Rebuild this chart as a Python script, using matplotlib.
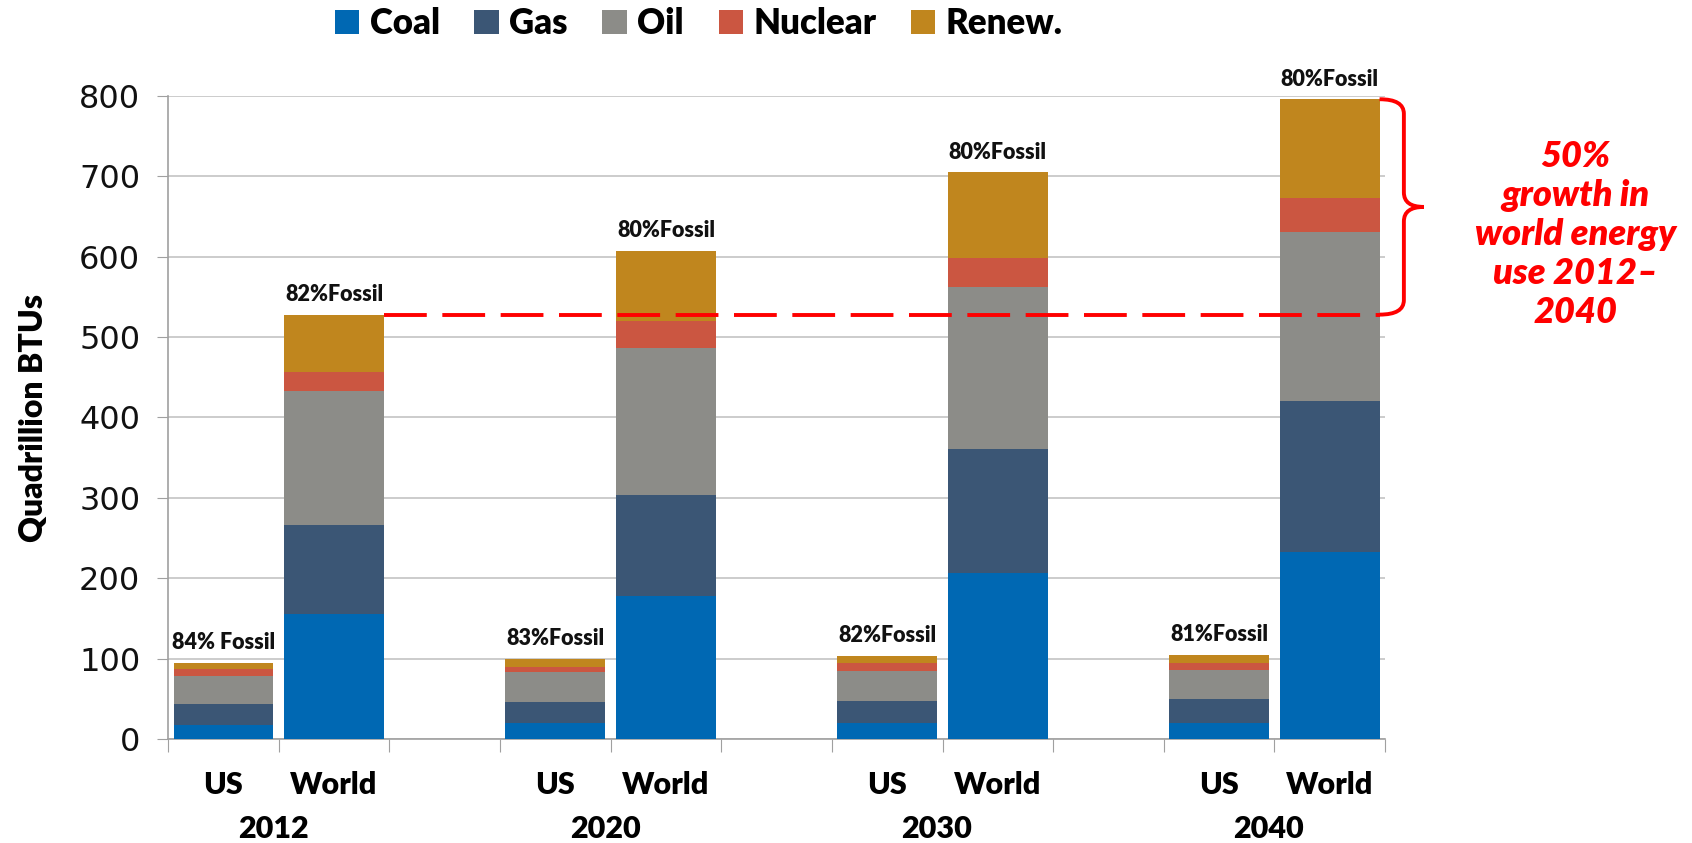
import matplotlib
matplotlib.use("Agg")
import matplotlib.pyplot as plt
from matplotlib.path import Path
from matplotlib.patches import PathPatch, Patch
import numpy as np

# Energy use by source, quadrillion BTUs
years = ["2012", "2020", "2030", "2040"]
regions = ["US", "World"]
sources = ["Coal", "Gas", "Oil", "Nuclear", "Renew."]
colors = ["#0068B3", "#3B5675", "#8C8C88", "#CB5641", "#C0861E"]

us_coal = [17, 20, 20, 20]
us_gas = [27, 26.5, 27, 30]
us_oil = [34, 36.5, 37, 36]
us_nuclear = [9, 7, 10, 8]
us_renew = [8, 10, 9.5, 11]

world_coal = [155, 178, 206, 233]
world_gas = [111, 126, 155, 187]
world_oil = [167, 183, 201, 211]
world_nuclear = [24, 33, 37, 42]
world_renew = [71, 87, 106, 123]

us_fossil = ["84% Fossil", "83%Fossil", "82%Fossil", "81%Fossil"]
world_fossil = ["82%Fossil", "80%Fossil", "80%Fossil", "80%Fossil"]

growth_note = "50%\ngrowth in\nworld energy\nuse 2012\u2013\n2040"

FONT = "Lato"
W = "heavy"

fig = plt.figure(figsize=(16.92, 8.43), dpi=100)
ax = fig.add_axes([0.0993, 0.1234, 0.7193, 0.7627])

# US and World side by side, one empty slot between years
us_x = np.arange(len(years)) * 3
world_x = us_x + 1
width = 0.9

us_stack = [us_coal, us_gas, us_oil, us_nuclear, us_renew]
world_stack = [world_coal, world_gas, world_oil, world_nuclear, world_renew]

for xs, stack in [(us_x, us_stack), (world_x, world_stack)]:
    bottom = np.zeros(len(years))
    for vals, c in zip(stack, colors):
        ax.bar(xs, vals, width, bottom=bottom, color=c, zorder=3, linewidth=0)
        bottom += np.array(vals)

us_tot = np.sum(us_stack, axis=0)
world_tot = np.sum(world_stack, axis=0)

for xs, tots, labels in [(us_x, us_tot, us_fossil), (world_x, world_tot, world_fossil)]:
    for x, t, lab in zip(xs, tots, labels):
        ax.annotate(lab, (x, t), xytext=(0, 7), textcoords="offset points",
                    ha="center", va="bottom", fontsize=15.5, fontweight=W,
                    family=FONT, color="#111111")

ax.set_xlim(-0.5, 10.5)
ax.set_ylim(0, 800)
ax.set_yticks(np.arange(0, 801, 100))
ax.tick_params(axis="y", labelsize=23, length=8, color="#A0A0A0", pad=12,
               labelcolor="#111111")
ax.yaxis.grid(True, color="#C4C4C4", linewidth=1.2, zorder=0)
ax.set_axisbelow(True)

# category separators on the x axis
ax.set_xticks(np.arange(-0.5, 10.6, 1))
ax.set_xticklabels([])
ax.tick_params(axis="x", length=9, color="#A0A0A0")

for s in ["top", "right"]:
    ax.spines[s].set_visible(False)
for s in ["left", "bottom"]:
    ax.spines[s].set_color("#A0A0A0")
    ax.spines[s].set_linewidth(1.2)

trans = ax.get_xaxis_transform()
for i, yr in enumerate(years):
    ax.text(us_x[i], -0.072, "US", transform=trans, ha="center", va="center",
            fontsize=22, fontweight=W, family=FONT)
    ax.text(world_x[i], -0.072, "World", transform=trans, ha="center", va="center",
            fontsize=22, fontweight=W, family=FONT)
    ax.text((us_x[i] + world_x[i]) / 2 - 0.05, -0.14, yr, transform=trans,
            ha="center", va="center", fontsize=22, fontweight=W, family=FONT)

ax.set_ylabel("Quadrillion BTUs", fontsize=23, fontweight=W, family=FONT,
              labelpad=22)

# dashed line at 2012 world total, out to the brace
base = world_tot[0]
top = world_tot[-1]
x0 = world_x[0] + width / 2
x1 = world_x[-1] + width / 2
ln, = ax.plot([x0, x1], [base, base], color="#FF0000", linewidth=2.8,
              clip_on=False, zorder=5)
ln.set_dashes((11, 4))

# curly brace from 2012 level up to 2040 total
xb = x1 + 0.22
xt = x1 + 0.40
mid = (base + top) / 2
r = 18
verts = [(x1, top), (xb, top), (xb, top - r),
         (xb, mid + r), (xb, mid), (xt, mid),
         (xb, mid), (xb, mid - r),
         (xb, base + r), (xb, base), (x1, base)]
codes = [Path.MOVETO, Path.CURVE3, Path.CURVE3,
         Path.LINETO, Path.CURVE3, Path.CURVE3,
         Path.CURVE3, Path.CURVE3,
         Path.LINETO, Path.CURVE3, Path.CURVE3]
brace = PathPatch(Path(verts, codes), facecolor="none", edgecolor="#FF0000",
                  linewidth=2.8, clip_on=False, zorder=5)
ax.add_patch(brace)

fig.text(0.931, 0.722, growth_note, ha="center", va="center", color="#FF0000",
         fontsize=26, fontweight=W, style="italic", family=FONT,
         linespacing=1.22)

handles = [Patch(facecolor=c, edgecolor="none") for c in colors]
fig.legend(handles, sources, loc="center", bbox_to_anchor=(0.413, 0.972),
           ncol=5, frameon=False, handlelength=0.7, handleheight=0.7,
           handletextpad=0.3, columnspacing=1.0,
           prop={"family": FONT, "weight": W, "size": 25})

fig.savefig("out.png", dpi=100)
